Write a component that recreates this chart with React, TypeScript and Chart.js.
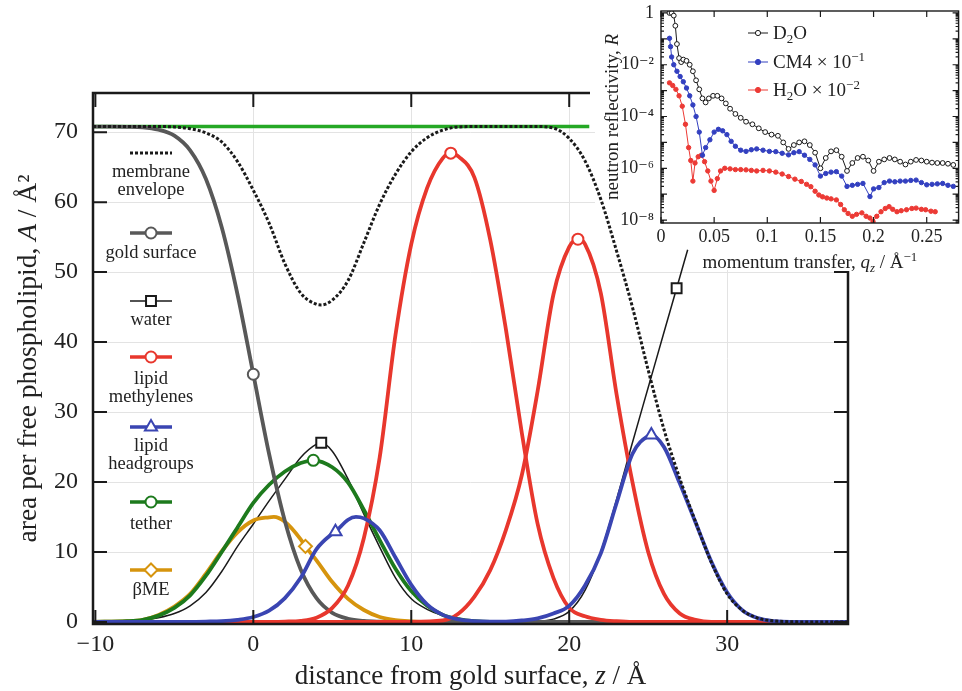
import { useEffect, useRef } from 'react';
import { Chart, registerables } from 'chart.js';

Chart.register(...registerables);

const SERIF = "'Liberation Serif', 'Times New Roman', 'DejaVu Serif', serif";
Chart.defaults.font.family = SERIF;

// ---------------- main plot data (area per lipid vs distance) ----------------
const zTicks = [-10, 0, 10, 20, 30];
const areaTicks = [0, 10, 20, 30, 40, 50, 60, 70];

const zTotal = [-10.15, 21.27];
const totalArea = [70.8, 70.8];

const zGold = [-10.15, -9, -8, -7, -6, -5, -4, -3, -2, -1, 0, 1, 2, 3, 4, 5, 6, 7, 8, 9, 10, 37.65];
const goldSurface = [70.8, 70.8, 70.77, 70.7, 70.35, 69.5, 67.4, 63.3, 56.4, 46.8, 35.4, 24.0, 14.4, 7.5, 3.4, 1.3, 0.45, 0.13, 0.03, 0, 0, 0];
const goldMarks = [0];

const zEnvelope = [-10.15, -6, -5, -4, -3, -2, -1, 0, 1, 2, 3, 4, 4.3, 5, 6, 7, 8, 9, 10, 11, 12, 13, 14, 18, 19, 20, 21, 22, 23, 24, 25, 26, 27, 28, 29, 30, 31, 32, 33, 35, 37.65];
const envelope = [70.8, 70.8, 70.75, 70.5, 69.9, 68.6, 65.8, 61.7, 57.0, 51.2, 47.0, 45.4, 45.3, 46.0, 48.8, 54.2, 59.7, 64.0, 67.2, 69.2, 70.3, 70.75, 70.8, 70.8, 70.6, 69.1, 65.9, 60.4, 53.0, 45.0, 36.0, 27.5, 20.5, 14.3, 8.5, 4.0, 1.6, 0.5, 0.15, 0, 0];

const zWater = [-10.15, -8, -7, -6, -5, -4, -3, -2, -1, 0, 1, 2, 3, 4, 4.3, 5, 6, 7, 8, 9, 10, 11, 12, 13, 14, 15, 16, 17, 18, 19, 20, 21, 22, 23, 24, 25, 26, 26.8, 27.5];
const water = [0, 0.1, 0.25, 0.6, 1.2, 2.3, 4.2, 7.2, 10.8, 14.0, 17.3, 20.4, 23.5, 25.4, 25.6, 24.4, 20.4, 15.4, 10.7, 6.3, 3.3, 1.8, 0.9, 0.45, 0.15, 0.05, 0, 0, 0.1, 0.4, 1.5, 4.5, 10.0, 17.5, 25.6, 33.5, 41.4, 47.7, 53.2];
const waterMarks = [4.3, 26.8];

const zHead = [-10.15, -5, -3, -2, -1, 0, 1, 2, 3, 4, 5, 5.2, 6, 6.5, 7, 8, 9, 10, 11, 12, 13, 14, 15, 16, 17, 18, 19, 20, 21, 22, 23, 24, 25, 25.2, 26, 27, 28, 29, 30, 31, 32, 33, 34, 37.65];
const headgroups = [0, 0, 0.05, 0.1, 0.3, 0.7, 1.6, 3.4, 6.3, 10.4, 12.6, 12.9, 14.6, 15.0, 14.8, 13.1, 9.2, 5.3, 2.5, 1.0, 0.35, 0.1, 0.03, 0.05, 0.2, 0.5, 1.2, 2.3, 5.2, 9.8, 17.0, 24.0, 26.6, 26.7, 25.0, 19.8, 14.2, 8.6, 4.2, 1.6, 0.5, 0.1, 0, 0];
const headMarks = [5.2, 25.2];

const zMethInner = [-10.15, 0, 2, 3, 4, 5, 6, 7, 8, 9, 10, 11, 12, 12.5, 13, 14, 15, 16, 17, 18, 19, 20, 21, 22, 23, 24, 37.65];
const methInner = [0, 0, 0.05, 0.15, 0.6, 2.0, 5.2, 12.0, 23.5, 41.0, 54.0, 62.0, 66.3, 67.0, 66.5, 63.5, 54.6, 41.7, 27.0, 14.0, 6.3, 2.0, 0.8, 0.3, 0.1, 0, 0];
const methInnerMarks = [12.5];

const zMethOuter = [-10.15, 10, 12, 13, 14, 15, 16, 17, 18, 19, 20, 20.55, 21, 22, 23, 24, 25, 26, 27, 28, 29, 37.65];
const methOuter = [0, 0, 0.2, 1.2, 3.6, 7.4, 13.2, 21.0, 33.0, 46.8, 53.6, 54.7, 54.0, 47.0, 32.5, 20.0, 10.0, 4.0, 1.2, 0.3, 0, 0];
const methOuterMarks = [20.55];

const zTether = [-10.15, -8, -7, -6, -5, -4, -3, -2, -1, 0, 1, 2, 3, 3.8, 5, 6, 7, 8, 9, 10, 11, 12, 13, 14, 15, 37.65];
const tether = [0, 0.1, 0.3, 0.9, 2.0, 3.8, 6.6, 10.0, 13.5, 17.0, 19.6, 21.5, 22.7, 23.1, 22.1, 19.9, 16.0, 11.7, 7.6, 4.4, 2.3, 1.0, 0.4, 0.1, 0, 0];
const tetherMarks = [3.8];

const zBme = [-10.15, -8, -7, -6, -5, -4, -3, -2, -1, 0, 1, 1.3, 2, 3, 3.3, 4, 5, 6, 7, 8, 9, 10, 11, 37.65];
const bme = [0, 0.1, 0.3, 1.0, 2.2, 4.0, 6.9, 10.1, 12.8, 14.5, 14.95, 15.0, 14.3, 11.8, 10.8, 8.8, 5.7, 3.3, 1.7, 0.7, 0.25, 0.08, 0, 0];
const bmeMarks = [3.3];

// ---------------- inset data (neutron reflectivity) ----------------
const qTicks = [0, 0.05, 0.1, 0.15, 0.2, 0.25];
const rTicks = [1e-8, 1e-6, 1e-4, 1e-2, 1];

const qD2O = [0.008, 0.010, 0.012, 0.0135, 0.015, 0.017, 0.019, 0.021, 0.024, 0.027,
  0.030, 0.033, 0.036, 0.039, 0.042, 0.045, 0.049, 0.053, 0.057, 0.061,
  0.065, 0.070, 0.075, 0.080, 0.086, 0.092, 0.098, 0.104, 0.110, 0.115,
  0.120, 0.125, 0.130, 0.135, 0.140, 0.145, 0.150, 0.155, 0.160, 0.165,
  0.170, 0.175, 0.180, 0.185, 0.190, 0.195, 0.200, 0.205, 0.210, 0.215,
  0.220, 0.225, 0.230, 0.235, 0.240, 0.245, 0.250, 0.255, 0.260, 0.265,
  0.270, 0.275];
const rD2O = [1.0, 1.0, 0.79, 0.32, 0.063, 0.018, 0.0126, 0.0158, 0.0141, 0.01,
  0.0056, 0.0025, 0.00112, 5.0e-4, 3.5e-4, 5.0e-4, 6.3e-4, 6.3e-4, 5.0e-4, 3.2e-4,
  2.0e-4, 1.26e-4, 8.9e-5, 6.3e-5, 5.0e-5, 3.5e-5, 2.5e-5, 2.0e-5, 1.8e-5, 1.0e-5,
  5.6e-6, 7.9e-6, 1.0e-5, 1.1e-5, 7.9e-6, 4.0e-6, 1.0e-6, 2.5e-6, 4.5e-6, 5.0e-6,
  2.8e-6, 7.9e-7, 1.6e-6, 2.5e-6, 2.8e-6, 2.0e-6, 7.9e-7, 1.8e-6, 2.2e-6, 2.5e-6,
  2.2e-6, 1.8e-6, 1.4e-6, 1.8e-6, 2.1e-6, 2.0e-6, 1.8e-6, 1.66e-6, 1.6e-6, 1.6e-6,
  1.5e-6, 1.35e-6];

const qCM4 = [0.008, 0.009, 0.010, 0.012, 0.015, 0.018, 0.021, 0.024, 0.027, 0.030,
  0.033, 0.036, 0.039, 0.042, 0.046, 0.050, 0.054, 0.058, 0.062, 0.066,
  0.070, 0.075, 0.080, 0.085, 0.090, 0.096, 0.102, 0.108, 0.114, 0.120,
  0.125, 0.130, 0.135, 0.140, 0.145, 0.150, 0.155, 0.160, 0.165, 0.170,
  0.175, 0.180, 0.185, 0.190, 0.1966, 0.200, 0.205, 0.210, 0.215, 0.220,
  0.225, 0.230, 0.235, 0.240, 0.245, 0.250, 0.255, 0.260, 0.265, 0.270,
  0.275];
const rCM4 = [0.105, 0.05, 0.02, 0.01, 0.0056, 0.0035, 0.0022, 0.00126, 6.3e-4, 2.8e-4,
  1.0e-4, 2.5e-5, 3.2e-6, 6.3e-6, 1.26e-5, 2.5e-5, 3.2e-5, 2.8e-5, 2.0e-5, 1.1e-5,
  7.1e-6, 5.0e-6, 4.5e-6, 5.2e-6, 5.6e-6, 5.0e-6, 4.5e-6, 4.4e-6, 3.8e-6, 3.3e-6,
  4.0e-6, 4.4e-6, 3.2e-6, 2.2e-6, 1.35e-6, 5.0e-7, 6.3e-7, 7.1e-7, 7.4e-7, 5.0e-7,
  2.0e-7, 2.2e-7, 2.4e-7, 2.6e-7, 8.1e-8, 1.6e-7, 1.8e-7, 2.8e-7, 3.2e-7, 3.0e-7,
  3.2e-7, 3.2e-7, 3.4e-7, 3.5e-7, 2.8e-7, 2.3e-7, 2.4e-7, 2.5e-7, 2.6e-7, 2.2e-7,
  2.0e-7];

const qH2O = [0.008, 0.011, 0.014, 0.017, 0.020, 0.023, 0.026, 0.028, 0.030, 0.032,
  0.035, 0.038, 0.041, 0.044, 0.047, 0.050, 0.053, 0.056, 0.060, 0.065,
  0.070, 0.075, 0.080, 0.085, 0.090, 0.096, 0.102, 0.108, 0.114, 0.120,
  0.126, 0.132, 0.137, 0.141, 0.145, 0.1485, 0.152, 0.156, 0.160, 0.165,
  0.169, 0.1725, 0.176, 0.180, 0.184, 0.189, 0.193, 0.1966, 0.1995, 0.203,
  0.207, 0.211, 0.2146, 0.218, 0.222, 0.226, 0.231, 0.236, 0.240, 0.245,
  0.249, 0.254, 0.258];
const rH2O = [0.002, 0.00158, 0.00112, 6.3e-4, 2.5e-4, 5.0e-5, 6.3e-6, 2.0e-6, 3.2e-7, 1.6e-6,
  2.8e-6, 3.2e-6, 1.8e-6, 7.9e-7, 3.2e-7, 1.4e-7, 4.0e-7, 7.9e-7, 1.0e-6, 9.5e-7,
  8.9e-7, 8.9e-7, 8.7e-7, 8.3e-7, 7.9e-7, 8.3e-7, 7.9e-7, 7.1e-7, 6.0e-7, 4.8e-7,
  3.8e-7, 3.1e-7, 2.4e-7, 1.95e-7, 1.3e-7, 9.3e-8, 7.9e-8, 7.1e-8, 6.6e-8, 6.0e-8,
  4.0e-8, 2.5e-8, 1.8e-8, 1.4e-8, 1.66e-8, 1.9e-8, 1.4e-8, 1.2e-8, 8.7e-9, 1.4e-8,
  2.1e-8, 2.8e-8, 3.3e-8, 2.6e-8, 2.1e-8, 2.3e-8, 2.5e-8, 2.8e-8, 2.9e-8, 2.6e-8,
  2.5e-8, 2.2e-8, 2.1e-8];

// ---------------- styles ----------------
const GRAY = '#585858';
const RED = '#e8372d';
const BLUE = '#3a45b2';
const GREEN = '#1d7a1d';
const LIME = '#25a825';
const ORANGE = '#d6940d';
const INK = '#1a1a1a';
const TEXT = '#222222';
const INSET_BLUE = '#3340c0';
const INSET_RED = '#ec3a35';

const INSET_BOX = { x: 595, y: 0, w: 367, h: 270 };

type Seg = { t: string; it?: boolean; sub?: boolean; sup?: boolean };

function fontFor(size: number, it?: boolean) {
  return `${it ? 'italic ' : ''}${size}px ${SERIF}`;
}

function drawRich(ctx: CanvasRenderingContext2D, segs: Seg[], x: number, y: number, size: number, align: 'center' | 'left' = 'center', rot = 0) {
  ctx.save();
  ctx.translate(x, y);
  ctx.rotate(rot);
  ctx.textBaseline = 'alphabetic';
  ctx.textAlign = 'left';
  ctx.fillStyle = TEXT;
  const parts = segs.map((s) => {
    const sz = s.sub || s.sup ? size * 0.68 : size;
    ctx.font = fontFor(sz, s.it);
    return { s, sz, w: ctx.measureText(s.t).width };
  });
  const total = parts.reduce((a, p) => a + p.w, 0);
  let cx = align === 'center' ? -total / 2 : 0;
  for (const p of parts) {
    ctx.font = fontFor(p.sz, p.s.it);
    const dy = p.s.sub ? size * 0.22 : p.s.sup ? -size * 0.38 : 0;
    ctx.fillText(p.s.t, cx, dy);
    cx += p.w;
  }
  ctx.restore();
}

function drawMarker(ctx: CanvasRenderingContext2D, style: string, x: number, y: number, r: number, color: string, lw = 2, filled = false) {
  ctx.save();
  ctx.beginPath();
  if (style === 'rect') {
    const s = r * Math.SQRT1_2;
    ctx.rect(x - s, y - s, 2 * s, 2 * s);
  } else if (style === 'triangle') {
    ctx.moveTo(x, y - r);
    ctx.lineTo(x + r * 0.866, y + r / 2);
    ctx.lineTo(x - r * 0.866, y + r / 2);
    ctx.closePath();
  } else if (style === 'rectRot') {
    ctx.moveTo(x, y - r);
    ctx.lineTo(x + r, y);
    ctx.lineTo(x, y + r);
    ctx.lineTo(x - r, y);
    ctx.closePath();
  } else {
    ctx.arc(x, y, r, 0, Math.PI * 2);
  }
  ctx.fillStyle = filled ? color : '#ffffff';
  ctx.fill();
  ctx.lineWidth = lw;
  ctx.strokeStyle = color;
  ctx.stroke();
  ctx.restore();
}

function pts(xs: number[], ys: number[]) {
  return xs.map((x, i) => ({ x, y: ys[i] }));
}

function curve(label: string, xs: number[], ys: number[], color: string, width: number, order: number, marks: number[] = [], style = 'circle', r = 5.5, extra: any = {}) {
  const set = new Set(marks.map((m) => xs.indexOf(m)));
  return {
    label,
    data: pts(xs, ys),
    borderColor: color,
    borderWidth: width,
    order,
    fill: false,
    cubicInterpolationMode: 'monotone',
    pointStyle: style,
    pointRadius: (c: any) => (set.has(c.dataIndex) ? r : 0),
    pointHoverRadius: 0,
    pointBackgroundColor: '#ffffff',
    pointBorderColor: color,
    pointBorderWidth: 2,
    ...extra,
  };
}

const legendItems = [
  { lines: ['membrane', 'envelope'], color: INK, width: 3, dash: [3, 2], style: '', sy: 153, ty: [177, 195] },
  { lines: ['gold surface'], color: GRAY, width: 3.5, dash: [], style: 'circle', sy: 233, ty: [258] },
  { lines: ['water'], color: INK, width: 1.5, dash: [], style: 'rect', sy: 301, ty: [325] },
  { lines: ['lipid', 'methylenes'], color: RED, width: 3.5, dash: [], style: 'circle', sy: 357, ty: [384, 402] },
  { lines: ['lipid', 'headgroups'], color: BLUE, width: 3.5, dash: [], style: 'triangle', sy: 427, ty: [451, 469] },
  { lines: ['tether'], color: GREEN, width: 3.5, dash: [], style: 'circle', sy: 502, ty: [529] },
  { lines: ['βME'], color: ORANGE, width: 3.5, dash: [], style: 'rectRot', sy: 570, ty: [595] },
];

const markerSize: Record<string, number> = { circle: 5.5, rect: 7, triangle: 7, rectRot: 6.5 };

const mainDecor = {
  id: 'mainDecor',
  beforeDatasetsDraw(chart: any) {
    const { ctx, chartArea: a, scales } = chart;
    const x = scales.x;
    const y = scales.y;
    ctx.save();
    ctx.beginPath();
    ctx.rect(a.left, a.top, a.right - a.left, a.bottom - a.top);
    ctx.rect(INSET_BOX.x, INSET_BOX.y, INSET_BOX.w, INSET_BOX.h);
    ctx.clip('evenodd');
    ctx.strokeStyle = '#e3e3e3';
    ctx.lineWidth = 1;
    ctx.beginPath();
    for (const v of zTicks) {
      if (v <= -10) continue;
      const px = Math.round(x.getPixelForValue(v)) + 0.5;
      ctx.moveTo(px, a.top);
      ctx.lineTo(px, a.bottom);
    }
    for (const v of areaTicks) {
      if (v <= 0) continue;
      const py = Math.round(y.getPixelForValue(v)) + 0.5;
      ctx.moveTo(a.left, py);
      ctx.lineTo(a.right, py);
    }
    ctx.stroke();
    ctx.restore();
  },
  afterDatasetsDraw(chart: any) {
    const { ctx, chartArea: a, scales } = chart;
    const x = scales.x;
    const y = scales.y;
    const boxLeft = INSET_BOX.x - 5;
    const boxBottom = INSET_BOX.y + INSET_BOX.h + 1;
    ctx.save();
    ctx.strokeStyle = INK;
    ctx.lineCap = 'butt';
    ctx.lineWidth = 2.5;
    ctx.beginPath();
    ctx.moveTo(a.left, a.top - 1.25);
    ctx.lineTo(a.left, a.bottom + 1.25);
    ctx.moveTo(a.left, a.bottom);
    ctx.lineTo(a.right + 1.25, a.bottom);
    ctx.moveTo(a.right, a.bottom);
    ctx.lineTo(a.right, boxBottom);
    ctx.moveTo(a.left - 1.25, a.top);
    ctx.lineTo(boxLeft, a.top);
    ctx.stroke();
    ctx.lineWidth = 2;
    ctx.beginPath();
    const tl = 14;
    for (const v of zTicks) {
      const px = x.getPixelForValue(v);
      ctx.moveTo(px, a.bottom);
      ctx.lineTo(px, a.bottom - tl);
      if (px < boxLeft) {
        ctx.moveTo(px, a.top);
        ctx.lineTo(px, a.top + tl);
      }
    }
    for (const v of areaTicks) {
      const py = y.getPixelForValue(v);
      ctx.moveTo(a.left, py);
      ctx.lineTo(a.left + tl, py);
      if (py >= boxBottom - 2) {
        ctx.moveTo(a.right, py);
        ctx.lineTo(a.right - tl, py);
      }
    }
    ctx.stroke();
    ctx.restore();

    // legend inside the plot
    const cx = 151;
    for (const it of legendItems) {
      ctx.save();
      ctx.strokeStyle = it.color;
      ctx.lineWidth = it.width;
      ctx.setLineDash(it.dash);
      ctx.beginPath();
      ctx.moveTo(cx - 21, it.sy);
      ctx.lineTo(cx + 21, it.sy);
      ctx.stroke();
      ctx.restore();
      if (it.style) drawMarker(ctx, it.style, cx, it.sy, markerSize[it.style], it.color, 2);
      it.lines.forEach((t, i) => drawRich(ctx, [{ t }], cx, it.ty[i], 18.5, 'center'));
    }

    // axis titles
    const midY = (a.top + a.bottom) / 2;
    drawRich(ctx, [{ t: 'area per free phospholipid, ' }, { t: 'A', it: true }, { t: ' / Å²' }], 36, midY, 27.5, 'center', -Math.PI / 2);
    drawRich(ctx, [{ t: 'distance from gold surface, ' }, { t: 'z', it: true }, { t: ' / Å' }], (a.left + a.right) / 2, 684, 27, 'center');
  },
};

const insetLegend = [
  { segs: [{ t: 'D' }, { t: '2', sub: true }, { t: 'O' }] as Seg[], color: INK, filled: false, y: 33 },
  { segs: [{ t: 'CM4 × 10' }, { t: '−1', sup: true }] as Seg[], color: INSET_BLUE, filled: true, y: 62 },
  { segs: [{ t: 'H' }, { t: '2', sub: true }, { t: 'O × 10' }, { t: '−2', sup: true }] as Seg[], color: INSET_RED, filled: true, y: 90 },
];

const insetDecor = {
  id: 'insetDecor',
  beforeDraw(chart: any) {
    const { ctx, chartArea: a } = chart;
    ctx.save();
    ctx.fillStyle = '#ffffff';
    ctx.fillRect(a.left, a.top, a.right - a.left, a.bottom - a.top);
    ctx.restore();
  },
  afterDatasetsDraw(chart: any) {
    const { ctx, chartArea: a, scales } = chart;
    const x = scales.x;
    const y = scales.y;
    ctx.save();
    ctx.strokeStyle = INK;
    ctx.lineWidth = 1.4;
    ctx.strokeRect(a.left, a.top, a.right - a.left, a.bottom - a.top);
    ctx.lineWidth = 1.2;
    ctx.beginPath();
    for (const v of qTicks) {
      const px = x.getPixelForValue(v);
      ctx.moveTo(px, a.bottom);
      ctx.lineTo(px, a.bottom - 6);
      ctx.moveTo(px, a.top);
      ctx.lineTo(px, a.top + 6);
    }
    for (let e = -9; e <= 0; e++) {
      for (let m = 1; m <= 9; m++) {
        const v = m * Math.pow(10, e);
        if (v < y.min || v > y.max) continue;
        const py = y.getPixelForValue(v);
        const len = m === 1 ? 6 : 3;
        ctx.moveTo(a.left, py);
        ctx.lineTo(a.left + len, py);
        ctx.moveTo(a.right, py);
        ctx.lineTo(a.right - len, py);
      }
    }
    ctx.stroke();
    ctx.restore();

    for (const it of insetLegend) {
      ctx.save();
      ctx.strokeStyle = it.color;
      ctx.lineWidth = 1;
      ctx.beginPath();
      ctx.moveTo(153, it.y);
      ctx.lineTo(173, it.y);
      ctx.stroke();
      ctx.restore();
      drawMarker(ctx, 'circle', 163, it.y, 2.6, it.color, 1, it.filled);
      drawRich(ctx, it.segs, 178, it.y + 6, 19, 'left');
    }

    drawRich(ctx, [{ t: 'neutron reflectivity, ' }, { t: 'R', it: true }], 23, (a.top + a.bottom) / 2, 19, 'center', -Math.PI / 2);
    drawRich(ctx, [{ t: 'momentum transfer, ' }, { t: 'q', it: true }, { t: 'z', it: true, sub: true }, { t: ' / Å' }, { t: '−1', sup: true }], (a.left + a.right) / 2, 268, 19, 'center');
  },
};

const supMap: Record<string, string> = { '0': '1', '-2': '10⁻²', '-4': '10⁻⁴', '-6': '10⁻⁶', '-8': '10⁻⁸' };

function zeroPad(s: any) {
  s.paddingTop = 0;
  s.paddingBottom = 0;
  s.paddingLeft = 0;
  s.paddingRight = 0;
}

function mainConfig(): any {
  return {
    type: 'line',
    data: {
      datasets: [
        curve('membrane envelope', zEnvelope, envelope, INK, 3, 0, [], 'circle', 0, { borderDash: [3, 2] }),
        curve('lipid headgroups', zHead, headgroups, BLUE, 3.8, 1, headMarks, 'triangle', 7),
        curve('lipid methylenes', zMethInner, methInner, RED, 3.8, 2, methInnerMarks, 'circle', 5.5),
        curve('lipid methylenes (outer)', zMethOuter, methOuter, RED, 3.8, 3, methOuterMarks, 'circle', 5.5),
        curve('gold surface', zGold, goldSurface, GRAY, 3.8, 4, goldMarks, 'circle', 5.5),
        curve('tether', zTether, tether, GREEN, 3.8, 5, tetherMarks, 'circle', 5.5),
        curve('βME', zBme, bme, ORANGE, 3.8, 6, bmeMarks, 'rectRot', 6.5),
        curve('water', zWater, water, INK, 1.5, 7, waterMarks, 'rect', 7),
        curve('total area', zTotal, totalArea, LIME, 3.5, 8),
      ],
    },
    options: {
      responsive: false,
      animation: false,
      events: [],
      layout: { padding: { top: 93, right: 114, left: 0, bottom: 0 } },
      plugins: { legend: { display: false }, tooltip: { enabled: false } },
      scales: {
        x: {
          type: 'linear',
          min: -10.15,
          max: 37.65,
          afterBuildTicks: (s: any) => { s.ticks = zTicks.map((v) => ({ value: v })); },
          afterFit: (s: any) => { s.height = 67; zeroPad(s); },
          grid: { display: false, drawTicks: false },
          border: { display: false },
          ticks: {
            padding: 6,
            color: TEXT,
            font: { family: SERIF, size: 24 },
            maxRotation: 0,
            autoSkip: false,
            callback: (v: number) => (v < 0 ? '−' + Math.abs(v) : String(v)),
          },
        },
        y: {
          type: 'linear',
          min: -0.3,
          max: 75.6,
          afterBuildTicks: (s: any) => { s.ticks = areaTicks.map((v) => ({ value: v })); },
          afterFit: (s: any) => { s.width = 93; zeroPad(s); },
          grid: { display: false, drawTicks: false },
          border: { display: false },
          ticks: { padding: 15, color: TEXT, font: { family: SERIF, size: 24 }, autoSkip: false },
        },
      },
    },
    plugins: [mainDecor],
  };
}

function insetConfig(): any {
  const ds = (label: string, qs: number[], rs: number[], color: string, filled: boolean, r: number) => ({
    label,
    data: pts(qs, rs),
    borderColor: color,
    borderWidth: 1,
    tension: 0,
    fill: false,
    pointStyle: 'circle',
    pointRadius: r,
    pointHoverRadius: 0,
    pointBackgroundColor: filled ? color : '#ffffff',
    pointBorderColor: color,
    pointBorderWidth: 1,
  });
  return {
    type: 'line',
    data: {
      datasets: [
        ds('D₂O', qD2O, rD2O, INK, false, 2.4),
        ds('CM4 × 10⁻¹', qCM4, rCM4, INSET_BLUE, true, 2.2),
        ds('H₂O × 10⁻²', qH2O, rH2O, INSET_RED, true, 2.2),
      ],
    },
    options: {
      responsive: false,
      animation: false,
      events: [],
      layout: { padding: { top: 11, right: 1, left: 0, bottom: 0 } },
      plugins: { legend: { display: false }, tooltip: { enabled: false } },
      scales: {
        x: {
          type: 'linear',
          min: 0,
          max: 0.28,
          afterBuildTicks: (s: any) => { s.ticks = qTicks.map((v) => ({ value: v })); },
          afterFit: (s: any) => { s.height = 52; zeroPad(s); },
          grid: { display: false, drawTicks: false },
          border: { display: false },
          ticks: {
            padding: 3,
            color: TEXT,
            font: { family: SERIF, size: 18 },
            maxRotation: 0,
            autoSkip: false,
            callback: (v: number) => String(v),
          },
        },
        y: {
          type: 'logarithmic',
          min: 7.7e-9,
          max: 1.19,
          afterBuildTicks: (s: any) => { s.ticks = rTicks.map((v) => ({ value: v })); },
          afterFit: (s: any) => { s.width = 66; zeroPad(s); },
          grid: { display: false, drawTicks: false },
          border: { display: false },
          ticks: {
            padding: 7,
            color: TEXT,
            font: { family: SERIF, size: 18 },
            autoSkip: false,
            callback: (v: number) => supMap[String(Math.round(Math.log10(v)))] || '',
          },
        },
      },
    },
    plugins: [insetDecor],
  };
}

export default function App() {
  const mainRef = useRef<HTMLCanvasElement>(null);
  const insetRef = useRef<HTMLCanvasElement>(null);
  useEffect(() => {
    const c1 = new Chart(mainRef.current as HTMLCanvasElement, mainConfig());
    const c2 = new Chart(insetRef.current as HTMLCanvasElement, insetConfig());
    return () => {
      c1.destroy();
      c2.destroy();
    };
  }, []);
  return (
    <div style={{ position: 'absolute', left: 0, top: 0, width: 962, height: 691, background: '#ffffff', overflow: 'hidden' }}>
      <canvas ref={mainRef} width={962} height={691} style={{ position: 'absolute', left: 0, top: 0, width: 962, height: 691 }} />
      <canvas ref={insetRef} width={367} height={275} style={{ position: 'absolute', left: INSET_BOX.x, top: 0, width: 367, height: 275 }} />
    </div>
  );
}
